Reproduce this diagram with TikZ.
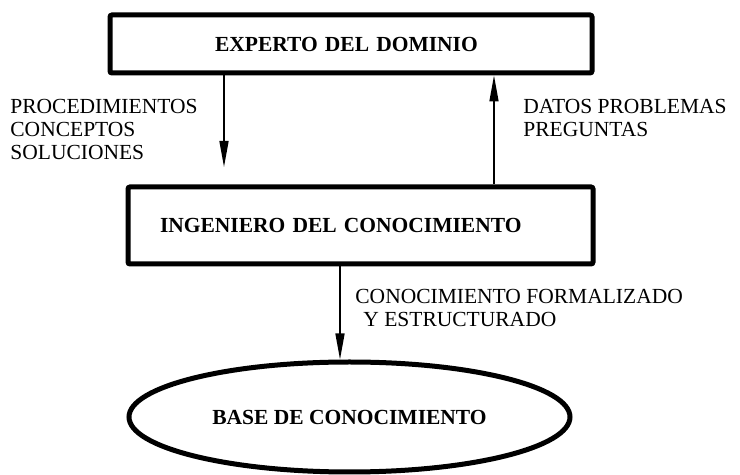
\documentclass[tikz,border=0pt]{standalone}
\usepackage{fontspec}
\setmainfont{Liberation Serif}
\usepackage{tikz}
\usetikzlibrary{shapes.geometric, arrows.meta, calc}
\tikzstyle{block} = [draw, rectangle, line width=2.5pt, rounded corners=1pt, align=left, font=\fontsize{10.75}{11.5}\selectfont\bfseries]
\tikzstyle{store} = [draw, ellipse, line width=2.5pt, font=\fontsize{10.75}{11.5}\selectfont\bfseries]
\tikzstyle{note} = [inner sep=0pt, anchor=north west, align=left, font=\fontsize{10.75}{11.5}\selectfont]
\tikzstyle{wire} = [-{Triangle[length=13pt,width=4.5pt]}, line width=0.75pt]

\begin{document}
\begin{tikzpicture}[x=0.5pt, y=-0.5pt]
    \useasboundingbox (0,0) rectangle (740,475);
    \node[block, minimum height=29pt, inner xsep=52.5pt, text width=136pt] (experto) at (351,44) {EXPERTO DEL DOMINIO};
    \node[block, minimum height=38.5pt, inner xsep=16pt, text width=200.5pt] (ingeniero) at (360.5,225.5) {INGENIERO DEL CONOCIMIENTO};
    \node[store, minimum width=220.5pt, minimum height=55pt] (base) at (349.5,417) {BASE DE CONOCIMIENTO};
    \coordinate (solTip) at (224,167);
    \draw[wire] (experto.south -| solTip) -- (solTip);
    \draw[wire] (ingeniero.north -| 494,0) -- (experto.south -| 494,0);
    \draw[wire] (ingeniero.south -| 340,0) -- (base.north -| 340,0);
    \node[note] (aportes) at (10,99) {PROCEDIMIENTOS\\CONCEPTOS\\SOLUCIONES};
    \node[note] (consultas) at (523,99) {DATOS PROBLEMAS\\PREGUNTAS};
    \node[note] (formal) at (355,289) {CONOCIMIENTO FORMALIZADO\\\hspace*{4pt}Y ESTRUCTURADO};
\end{tikzpicture}
\end{document}
